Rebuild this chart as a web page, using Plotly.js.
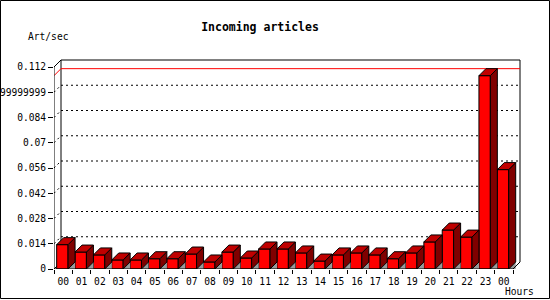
<!DOCTYPE html>
<html>
<head>
<meta charset="utf-8">
<script src="https://cdn.plot.ly/plotly-3.0.1.min.js"></script>
<style>
html,body{margin:0;padding:0;background:#fff;}
#chart{width:550px;height:300px;}
</style>
</head>
<body>
<div id="chart"></div>
<script>
// ---- data ----
const hours = ['00','01','02','03','04','05','06','07','08','09','10','11','12','13','14','15','16','17','18','19','20','21','22','23','00'];
const artPerSec = [0.0135,0.0094,0.0078,0.0050,0.0050,0.0057,0.0057,0.0083,0.0039,0.0094,0.0061,0.0111,0.0111,0.0089,0.0044,0.0078,0.0089,0.0078,0.0057,0.0089,0.0150,0.0216,0.0177,0.1072,0.0551];
const yTickVals = [0,0.014,0.028,0.042,0.056,0.07,0.084,0.098,0.112];
const yTickText = ['0','0.014','0.028','0.042','0.056','0.07','0.084','0.09799999999','0.112'];
const titleText = 'Incoming articles';
const yLabel = 'Art/sec';
const xLabel = 'Hours';

// ---- geometry (pixels) ----
const FIG_W = 550, FIG_H = 300;
const L = 54, B = 31;
const S = 18.36;          // px per category slot
const D = 7;              // 3D depth offset px
const FRONT_H = 202;      // px from 0 to top tick
const N = hours.length;
const yTop = yTickVals[yTickVals.length - 1];
const W = N * S + D + 2;
const R = FIG_W - L - W;
const H = FRONT_H + D + 2;
const T = FIG_H - B - H;
const xMax = W / S;
const yMax = yTop * H / FRONT_H;
const dxU = D / S;
const dyU = yTop * D / FRONT_H;
const barW = 0.62;
const barOff = -0.045;

const pxX = p => (p - L) / W;
const pxY = p => (FIG_H - B - p) / H;

// ---- 3D faces computed from data ----
const sideX = [], sideY = [], topX = [], topY = [], shX = [], shY = [];
const centers = [];
artPerSec.forEach((v, i) => {
  const c = i + 0.5 + barOff;
  centers.push(c);
  const xl = c - barW / 2, xr = c + barW / 2;
  sideX.push(xr, xr, xr + dxU, xr + dxU, xr, null);
  sideY.push(0, v, v + dyU, dyU, 0, null);
  topX.push(xl, xr, xr + dxU, xl + dxU, xl, null);
  topY.push(v, v, v + dyU, v + dyU, v, null);
  shX.push(xr, xr + dxU, xr + dxU, xr, null);
  shY.push(0, dyU, 0, 0, null);
});

const traces = [
  {type:'bar', x: centers, y: artPerSec, width: barW,
   marker:{color:'#ff0000', line:{color:'#000', width:1}}, hoverinfo:'skip'},
  {type:'scatter', mode:'lines', x: shX, y: shY, fill:'toself', fillcolor:'#999999',
   line:{width:0, color:'#999999'}, hoverinfo:'skip'},
  {type:'scatter', mode:'lines', x: sideX, y: sideY, fill:'toself', fillcolor:'#800000',
   line:{width:1, color:'#000'}, hoverinfo:'skip'},
  {type:'scatter', mode:'lines', x: topX, y: topY, fill:'toself', fillcolor:'#c00000',
   line:{width:1, color:'#000'}, hoverinfo:'skip'}
];

// ---- frame / grid shapes ----
const shapes = [];
const ln = (x0, y0, x1, y1, color, dash, layer) => shapes.push({
  type:'line', xref:'x', yref:'y', x0, y0, x1, y1, layer: layer || 'below',
  line:{color, width:1, dash: dash || 'solid'}
});
yTickVals.forEach((v, k) => {
  if (k === 0 || k === yTickVals.length - 1) return;
  ln(dxU, v + dyU, N + dxU, v + dyU, '#000', '2px,3px');
  ln(0, v, dxU, v + dyU, '#000', '2px,3px');
});
// back plane frame
ln(dxU, dyU, dxU, yTop + dyU, '#000');
ln(dxU, yTop + dyU, N + dxU, yTop + dyU, '#000');
ln(N + dxU, yTop + dyU, N + dxU, dyU, '#000');
ln(0, yTop, dxU, yTop + dyU, '#000');
ln(0, 0, dxU, dyU, '#000');
// max line
const vMax = Math.max(...artPerSec);
ln(0, vMax, dxU, vMax + dyU, '#ff0000');
ln(dxU, vMax + dyU, N + dxU, vMax + dyU, '#ff0000');
// front axes
ln(0, 0, 0, yTop, '#000', 'solid', 'above');
ln(0, 0, N, 0, '#000', 'solid', 'above');
ln(N, 0, N + dxU, dyU, '#000', 'solid', 'above');
// outer border
shapes.push({type:'rect', xref:'paper', yref:'paper', layer:'above',
  x0: pxX(0.5), x1: pxX(FIG_W - 0.5), y0: pxY(FIG_H - 1.5), y1: pxY(0.5),
  line:{color:'#000', width:1}, fillcolor:'rgba(0,0,0,0)'});

const mono = 'DejaVu Sans Mono, monospace';
const boundaries = [];
for (let i = 0; i <= N; i++) boundaries.push(i);

const layout = {
  width: FIG_W, height: FIG_H,
  margin:{l:L, r:R, t:T, b:B, pad:0},
  paper_bgcolor:'#fff', plot_bgcolor:'#fff',
  showlegend:false, hovermode:false,
  title:{text: titleText, font:{family: mono, size:11.5, color:'#000', weight:'bold'},
         xref:'container', yref:'container', x: 260/FIG_W, y: 1 - 27/FIG_H,
         xanchor:'center', yanchor:'middle'},
  xaxis:{range:[0, xMax], tickmode:'array', tickvals: hours.map((h,i)=>i+0.5), ticktext: hours,
         ticks:'', showgrid:false, zeroline:false, showline:false, ticklabelstandoff:5,
         tickfont:{family: mono, size:9.6, color:'#000'},
         minor:{tickmode:'array', tickvals: boundaries, ticks:'outside', ticklen:4, tickcolor:'#000', tickwidth:1, showgrid:false}},
  yaxis:{range:[0, yMax], tickmode:'array', tickvals: yTickVals, ticktext: yTickText,
         ticks:'outside', ticklen:5, tickcolor:'#000', tickwidth:1,
         showgrid:false, zeroline:false, showline:false,
         tickfont:{family: mono, size:9.6, color:'#000'}},
  shapes: shapes,
  annotations:[
    {text: yLabel, xref:'paper', yref:'paper', x: pxX(47.8), y: pxY(37), showarrow:false,
     xanchor:'center', yanchor:'middle', font:{family: mono, size:9.6, color:'#000'}},
    {text: xLabel, xref:'paper', yref:'paper', x: pxX(519), y: pxY(291), showarrow:false,
     xanchor:'center', yanchor:'middle', font:{family: mono, size:9.6, color:'#000'}}
  ]
};

Plotly.newPlot('chart', traces, layout, {displayModeBar:false, staticPlot:true});
</script>
</body>
</html>
